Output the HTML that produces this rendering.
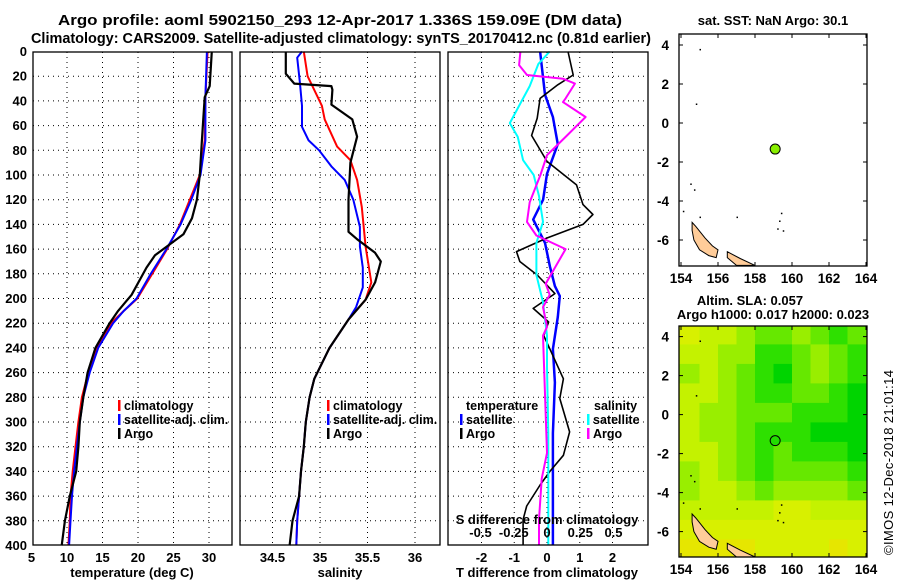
<!DOCTYPE html>
<html><head><meta charset="utf-8"><style>
body{margin:0;background:#fff}
svg{display:block;font-family:"Liberation Sans",sans-serif;font-weight:bold}
</style></head><body>
<svg id="chart" width="900" height="580" viewBox="0 0 900 580" xmlns="http://www.w3.org/2000/svg">
<text x="58" y="25" font-size="14.5" textLength="564" lengthAdjust="spacingAndGlyphs">Argo profile: aoml 5902150_293 12-Apr-2017 1.336S 159.09E (DM data)</text>
<text x="31" y="43" font-size="14.5" textLength="620" lengthAdjust="spacingAndGlyphs">Climatology: CARS2009. Satellite-adjusted climatology: synTS_20170412.nc (0.81d earlier)</text>
<g id="layer"></g>
<text transform="translate(893,555) rotate(-90)" font-size="13" font-weight="normal" textLength="185">©IMOS 12-Dec-2018 21:01:14</text>
</svg>
<script>
// ---- data ----
const pressureTicks = [0,20,40,60,80,100,120,140,160,180,200,220,240,260,280,300,320,340,360,380,400];
const tempTicks = [5,10,15,20,25,30];
const salTicks = [34.5,35,35.5,36];
const salTickLabels = ["34.5","35","35.5","36"];
const tdiffTicks = [-2,-1,0,1,2];
const sdiffTicks = [-0.5,-0.25,0,0.25,0.5];
const sdiffTickLabels = ["-0.5","-0.25","0","0.25","0.5"];

const tArgoP = [0,28,37,72,100,120,135,148,156,165,175,197,210,220,230,240,260,280,300,320,340,360,380,400];
const tArgo  = [30.4,30.1,29.4,29.0,28.7,28.3,27.6,26.4,24.5,22.4,21.2,19.1,17.2,16.0,15.0,14.0,12.9,12.3,11.8,11.6,11.3,10.4,9.7,9.25];
const tClimP = [0,37,72,100,120,140,160,180,200,210,220,240,260,280,300,320,340,360,380,400];
const tClim  = [29.8,29.5,29.4,28.7,27.3,25.9,24.1,22.0,19.9,18.0,16.2,14.2,13.0,12.1,11.6,11.2,10.8,10.5,10.4,10.2];
const tSat   = [29.7,29.5,29.5,28.8,27.5,26.0,24.0,21.8,19.8,18.0,16.5,14.4,13.2,12.3,11.8,11.4,11.0,10.7,10.5,10.3];

const sArgoP = [0,18,26,28,31,43,55,69,90,120,146,152,163,170,187,201,217,240,265,280,300,320,340,360,380,400];
const sArgo  = [34.64,34.64,34.73,35.12,35.13,35.12,35.34,35.39,35.32,35.30,35.30,35.39,35.58,35.64,35.58,35.48,35.30,35.10,34.94,34.89,34.85,34.83,34.80,34.78,34.71,34.68];
const sClimP = [0,20,28,44,55,77,88,104,126,158,187,201,217,240,265,280,300,320,340,360,380,400];
const sClim  = [34.83,34.87,34.92,35.02,35.05,35.18,35.32,35.39,35.44,35.48,35.54,35.48,35.30,35.10,34.94,34.89,34.85,34.83,34.80,34.78,34.76,34.75];
const sSatP  = [0,5,26,44,61,72,80,93,104,120,142,158,175,191,207,217,240,265,280,300,320,340,360,380,400];
const sSat   = [34.81,34.76,34.79,34.81,34.81,34.88,34.99,35.12,35.26,35.35,35.42,35.42,35.45,35.45,35.38,35.30,35.10,34.94,34.89,34.85,34.83,34.80,34.78,34.76,34.75];

const dTSatP = [0,35,53,75,99,120,136,155,174,190,198,215,241,268,309,379,400];
const dTSat  = [-0.21,-0.06,0.18,0.33,0,-0.12,-0.42,-0.06,0.09,0.24,0.39,0.33,0.18,0.24,0.18,0.18,0.18];
const dTArgoP = [0,19,27,38,54,68,89,108,124,132,140,151,162,170,181,196,208,219,230,241,265,281,308,327,340,351,368,379,400];
const dTArgo  = [0.64,0.8,0.33,-0.21,-0.3,-0.47,0,0.9,1.1,1.4,1.1,0,-0.93,-0.83,-0.3,0.24,-0.42,0.05,-0.1,0.09,0.5,0.39,0.69,0.5,0.09,-0.21,-0.62,-0.73,-0.73];
const dSSatP = [0,10,28,42,58,69,88,100,117,138,155,181,203,230,255,309,379,400];
const dSSat  = [0.02,-0.065,-0.13,-0.2,-0.28,-0.22,-0.18,-0.1,-0.06,-0.03,-0.08,-0.08,-0.03,0,0,0.01,0.01,0.01];
const dSArgoP = [0,11,19,22,26,38,41,53,68,84,100,122,138,149,160,188,197,207,223,230,325,346,379,400];
const dSArgo  = [-0.2,-0.21,-0.15,0.12,0.21,0.14,0.12,0.29,0.15,0,-0.05,-0.13,-0.15,-0.08,0.14,-0.01,0.02,-0.03,0,-0.03,0,-0.04,-0.06,-0.06];

const lonTicks = [154,156,158,160,162,164];
const latTicks = [4,2,0,-2,-4,-6];
const argoLon = 159.09, argoLat = -1.336;
const slaRows = [
 [5,4,4,3,2,2,3,2,1,2],
 [4,4,3,3,1,1,2,3,2,1],
 [3,4,3,2,1,0,2,3,2,1],
 [4,4,3,2,1,1,2,2,1,0],
 [4,3,3,2,2,2,1,1,1,0],
 [4,3,3,2,1,1,1,0,0,0],
 [4,4,3,2,1,2,1,1,1,0],
 [3,4,3,2,1,2,2,2,2,1],
 [3,4,4,3,2,3,3,3,3,2],
 [4,4,4,4,4,5,5,4,4,4],
 [5,5,5,5,5,5,5,5,5,5],
 [6,6,6,6,5,5,5,5,6,5]
];
const slaColors = ["#00d400","#2ee000","#66e800","#99ee00","#c4f200","#d8f000","#e6e600"];
const islandA = [[154.6,-5.1],[154.8,-5.3],[155.3,-5.9],[155.7,-6.3],[156.0,-6.5],[155.9,-6.9],[155.5,-6.8],[155.0,-6.5],[154.7,-6.0],[154.6,-5.5]];
const islandB = [[156.5,-6.6],[157.2,-6.95],[158.0,-7.3],[157.0,-7.3],[156.5,-6.9]];

// ---- helpers ----
const NS="http://www.w3.org/2000/svg";
const layer=document.getElementById('layer');
function mk(tag,attrs,parent){const e=document.createElementNS(NS,tag);for(const k in attrs)e.setAttribute(k,attrs[k]);(parent||layer).appendChild(e);return e;}
const Y0=51.5, PY=1.235;
const yP = p => Y0 + p*PY;
const xT = v => 31.5 + (v-5)*7.1;
const xS = v => 320 + (v-35)*95;
const xTD = v => 547 + v*32.75;
const xSD = v => 547 + v*133;

function panel(name){
  const g=mk('g',{});
  
  
  return g;
}
function frame(g,x0,y0,x1,y1){mk('rect',{x:x0,y:y0,width:x1-x0,height:y1-y0,fill:'none',stroke:'#000','stroke-width':1.3},g);}
function gridV(g,x,y0,y1){mk('line',{x1:x,y1:y0,x2:x,y2:y1,stroke:'#000','stroke-width':1,'stroke-dasharray':'1 4'},g);}
function gridH(g,y,x0,x1){mk('line',{x1:x0,y1:y,x2:x1,y2:y,stroke:'#000','stroke-width':1,'stroke-dasharray':'1 4'},g);}
function txt(g,x,y,s,anchor,size){const t=mk('text',{x:x,y:y,'text-anchor':anchor||'middle','font-size':size||13},g);t.textContent=s;return t;}
function line(g,xs,ps,fx,color,w,name){
  const d=xs.map((v,i)=>(i?'L':'M')+fx(v).toFixed(1)+','+yP(ps[i]).toFixed(1)).join('');
  const e=mk('path',{d:d,fill:'none',stroke:color,'stroke-width':w,'stroke-linejoin':'round'},g);
  
  
}
function legendEntry(g,x,y,color,label,name){
  const e=mk('g',{},g);
  
  
  mk('rect',{x:x,y:y-10,width:2.5,height:11,fill:color},e);
  txt(e,x+6,y,label,'start',12.5);
}
const PT=52, PB=545;

// ---- panel 1 ----
{
 const g=panel('temperature-panel');
 tempTicks.forEach(v=>{ if(v>5) gridV(g,xT(v),PT,PB); txt(g,xT(v),562,String(v));});
 pressureTicks.forEach(p=>{ if(p>0&&p<400) gridH(g,yP(p),33,232); const t=txt(g,27,yP(p)+4.5,String(p),'end'); });
 line(g,tClim,tClimP,xT,'#ff0000',2,'temperature-climatology-line');
 line(g,tSat,tClimP,xT,'#0000ff',2,'temperature-satellite-line');
 line(g,tArgo,tArgoP,xT,'#000000',2.2,'temperature-argo-line');
 frame(g,33,PT,232,PB);
 txt(g,132,577,'temperature (deg C)');
 legendEntry(g,118,410,'#ff0000','climatology','legend-climatology');
 legendEntry(g,118,424,'#0000ff','satellite-adj. clim.','legend-satellite');
 legendEntry(g,118,438,'#000000','Argo','legend-argo');
}
// ---- panel 2 ----
{
 const g=panel('salinity-panel');
 salTicks.forEach((v,i)=>{ gridV(g,xS(v),PT,PB); txt(g,xS(v),562,salTickLabels[i]);});
 pressureTicks.forEach(p=>{ if(p>0&&p<400) gridH(g,yP(p),240,440);});
 line(g,sClim,sClimP,xS,'#ff0000',2,'salinity-climatology-line');
 line(g,sSat,sSatP,xS,'#0000ff',2,'salinity-satellite-line');
 line(g,sArgo,sArgoP,xS,'#000000',2.2,'salinity-argo-line');
 frame(g,240,PT,440,PB);
 txt(g,340,577,'salinity');
 legendEntry(g,327,410,'#ff0000','climatology','legend-climatology');
 legendEntry(g,327,424,'#0000ff','satellite-adj. clim.','legend-satellite');
 legendEntry(g,327,438,'#000000','Argo','legend-argo');
}
// ---- panel 3 ----
{
 const g=panel('difference-panel');
 tdiffTicks.forEach(v=>{ gridV(g,xTD(v),PT,PB); txt(g,xTD(v),562,String(v));});
 pressureTicks.forEach(p=>{ if(p>0&&p<400) gridH(g,yP(p),448,648);});
 line(g,dTSat,dTSatP,xTD,'#0000ff',2.5,'tdiff-satellite-line');
 line(g,dTArgo,dTArgoP,xTD,'#000000',1.6,'tdiff-argo-line');
 line(g,dSSat,dSSatP,xSD,'#00ffff',2,'sdiff-satellite-line');
 line(g,dSArgo,dSArgoP,xSD,'#ff00ff',2,'sdiff-argo-line');
 frame(g,448,PT,648,PB);
 sdiffTicks.forEach((v,i)=>{ txt(g,xSD(v),537,sdiffTickLabels[i]);});
 txt(g,547,524,'S difference from climatology');
 txt(g,547,577,'T difference from climatology');
 txt(g,466,410,'temperature','start',12.5);
 legendEntry(g,460,424,'#0000ff','satellite','legend-t-satellite');
 legendEntry(g,460,438,'#000000','Argo','legend-t-argo');
 txt(g,594,410,'salinity','start',12.5);
 legendEntry(g,587,424,'#00ffff','satellite','legend-s-satellite');
 legendEntry(g,587,438,'#ff00ff','Argo','legend-s-argo');
}
// ---- maps ----
const MX0=679, MX1=867;
const xLon = v => 681 + (v-154)*18.5;
function drawMap(top, bottom, lat4y, name, heat, dotColor){
  const yLat = v => lat4y + (4-v)*19.5;
  const g=panel(name);
  const clip='clip-'+name;
  const cp=mk('clipPath',{id:clip},g); mk('rect',{x:MX0,y:top,width:MX1-MX0,height:bottom-top},cp);
  const inner=mk('g',{'clip-path':'url(#'+clip+')'},g);
  if(heat){
    slaRows.forEach((row,r)=>row.forEach((lv,c)=>{
      const la=4.6-r, lo=154+c;
      const cell=mk('rect',{x:xLon(lo)-(c===0?3:0),y:yLat(la),width:18.5+(c===0?3:0)+(c===9?4:0),height:20.5,fill:slaColors[lv]},inner);
      
      
    }));
  }
  [islandA,islandB].forEach(isl=>{
    const pts=isl.map(p=>xLon(p[0]).toFixed(1)+','+yLat(p[1]).toFixed(1)).join(' ');
    const e=mk('polygon',{points:pts,fill:'#ffcc99',stroke:'#000','stroke-width':1},inner);
    
    
  });
  [[155,3.8],[154.8,1],[154.5,-3.1],[154.7,-3.4],[154.1,-4.5],[155,-4.8],[157,-4.8],[159.4,-4.6],[159.3,-5],[159.5,-5.5],[159.2,-5.4]].forEach(p=>{
    mk('rect',{x:xLon(p[0]),y:yLat(p[1]),width:1.5,height:1.5,fill:'#000'},inner);
  });
  const dot=mk('circle',{cx:xLon(argoLon),cy:yLat(argoLat),r:5,fill:dotColor,stroke:'#000','stroke-width':1},g);
  
  
  frame(g,MX0,top,MX1,bottom);
  lonTicks.forEach(v=>{
    mk('line',{x1:xLon(v),y1:bottom,x2:xLon(v),y2:bottom-4,stroke:'#000'},g);
    mk('line',{x1:xLon(v),y1:top,x2:xLon(v),y2:top+4,stroke:'#000'},g);
    txt(g,xLon(v),bottom+17,String(v),'middle',13.5);
  });
  latTicks.forEach(v=>{
    mk('line',{x1:MX0,y1:yLat(v),x2:MX0+4,y2:yLat(v),stroke:'#000'},g);
    mk('line',{x1:MX1,y1:yLat(v),x2:MX1-4,y2:yLat(v),stroke:'#000'},g);
    txt(g,MX0-10,yLat(v)+5,String(v),'end',13.5);
  });
}
drawMap(34,266,45,'sst-map',false,'#88ee00');
drawMap(326,557,336.6,'sla-map',true,'#22dd00');
{
 const t1=txt(layer,773,25,'sat. SST: NaN Argo: 30.1','middle',13); 
 const t2=txt(layer,750,305,'Altim. SLA: 0.057','middle',13); 
 const t3=txt(layer,773,319,'Argo h1000: 0.017 h2000: 0.023','middle',13); 
}
</script>
</body></html>
